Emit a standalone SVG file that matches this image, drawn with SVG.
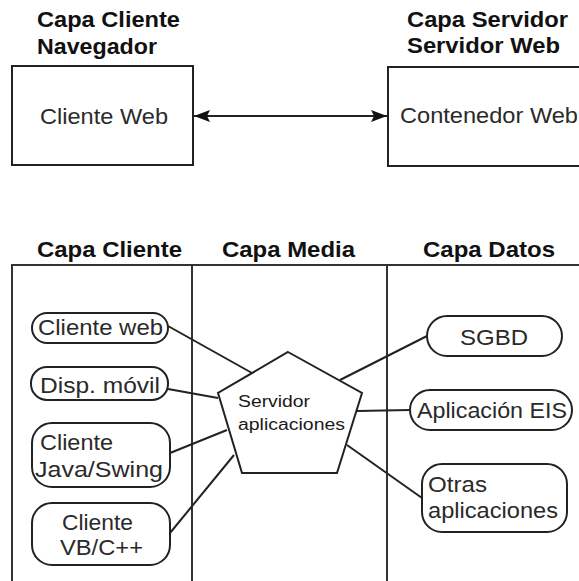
<svg xmlns="http://www.w3.org/2000/svg" width="579" height="581" viewBox="0 0 579 581">
  <style>
    .shape { fill: #ffffff; stroke: #222222; stroke-width: 2; }
    .line { fill: none; stroke: #222222; stroke-width: 2; }
    .frame { fill: none; stroke: #333333; stroke-width: 2; }
    .head { font-family: "Liberation Sans", Arial, sans-serif; font-weight: bold; font-size: 22px; fill: #111111; }
    .lbl { font-family: "Liberation Sans", Arial, sans-serif; font-size: 22px; fill: #2a2a2a; }
    .srv { font-family: "Liberation Sans", Arial, sans-serif; font-size: 16px; fill: #1a1a1a; }
  </style>
  <defs>
    <marker id="arrow" viewBox="0 0 16 12" refX="16" refY="6" markerWidth="16" markerHeight="12" markerUnits="userSpaceOnUse" orient="auto-start-reverse">
      <path d="M0,0 L16,6 L0,12 L3,6 Z" fill="#111111"/>
    </marker>
  </defs>
  <rect width="579" height="581" fill="#ffffff"/>

  <!-- Upper part: browser client and web server -->
  <g id="top-client">
    <text class="head" x="37" y="27" textLength="143" lengthAdjust="spacingAndGlyphs">Capa Cliente</text>
    <text class="head" x="37" y="54" textLength="120" lengthAdjust="spacingAndGlyphs">Navegador</text>
    <rect class="shape" x="12" y="66" width="181" height="99"/>
    <text class="lbl" x="40" y="124" textLength="128" lengthAdjust="spacingAndGlyphs">Cliente Web</text>
  </g>
  <g id="top-server">
    <text class="head" x="407" y="27" textLength="161" lengthAdjust="spacingAndGlyphs">Capa Servidor</text>
    <text class="head" x="407" y="53" textLength="153" lengthAdjust="spacingAndGlyphs">Servidor Web</text>
    <rect class="shape" x="388" y="67" width="200" height="99"/>
    <text class="lbl" x="400" y="123" textLength="178" lengthAdjust="spacingAndGlyphs">Contenedor Web</text>
  </g>

  <!-- Lower part: three-tier table -->
  <g id="tiers">
    <text class="head" x="37" y="257" textLength="145" lengthAdjust="spacingAndGlyphs">Capa Cliente</text>
    <text class="head" x="222" y="257" textLength="133" lengthAdjust="spacingAndGlyphs">Capa Media</text>
    <text class="head" x="423" y="257" textLength="132" lengthAdjust="spacingAndGlyphs">Capa Datos</text>
    <path class="frame" d="M12,581 V265 H579 M192,265 V581 M387,265 V581"/>
  </g>

  <g id="connectors">
    <line class="line" x1="194" y1="116" x2="387" y2="116" marker-start="url(#arrow)" marker-end="url(#arrow)"/>
    <line class="line" x1="168" y1="326" x2="252" y2="373"/>
    <line class="line" x1="168" y1="389" x2="218" y2="398"/>
    <line class="line" x1="170" y1="453" x2="227" y2="430"/>
    <line class="line" x1="170" y1="533" x2="234" y2="455"/>
    <line class="line" x1="340" y1="380" x2="427" y2="336"/>
    <line class="line" x1="357" y1="411" x2="410" y2="410"/>
    <line class="line" x1="347" y1="445" x2="422" y2="498"/>
  </g>

  <g id="servidor-aplicaciones">
    <polygon class="shape" points="288,352 362,393 337,473 242,473 218,393"/>
    <text class="srv" x="238" y="407" textLength="72" lengthAdjust="spacingAndGlyphs">Servidor</text>
    <text class="srv" x="238" y="430" textLength="107" lengthAdjust="spacingAndGlyphs">aplicaciones</text>
  </g>

  <g id="cliente-web">
    <rect class="shape" x="32" y="313" width="136" height="30" rx="15"/>
    <text class="lbl" x="38" y="335" textLength="125" lengthAdjust="spacingAndGlyphs">Cliente web</text>
  </g>
  <g id="disp-movil">
    <rect class="shape" x="31" y="367" width="137" height="33" rx="16"/>
    <text class="lbl" x="40" y="393" textLength="120" lengthAdjust="spacingAndGlyphs">Disp. móvil</text>
  </g>
  <g id="cliente-java">
    <rect class="shape" x="32" y="423" width="138" height="64" rx="20"/>
    <text class="lbl" x="40" y="450" textLength="73" lengthAdjust="spacingAndGlyphs">Cliente</text>
    <text class="lbl" x="35" y="477" textLength="128" lengthAdjust="spacingAndGlyphs">Java/Swing</text>
  </g>
  <g id="cliente-vb">
    <rect class="shape" x="32" y="503" width="138" height="62" rx="20"/>
    <text class="lbl" x="62" y="530" textLength="71" lengthAdjust="spacingAndGlyphs">Cliente</text>
    <text class="lbl" x="60" y="555" textLength="83" lengthAdjust="spacingAndGlyphs">VB/C++</text>
  </g>

  <g id="sgbd">
    <rect class="shape" x="427" y="316" width="135" height="40" rx="20"/>
    <text class="lbl" x="460" y="345" textLength="68" lengthAdjust="spacingAndGlyphs">SGBD</text>
  </g>
  <g id="aplicacion-eis">
    <rect class="shape" x="410" y="390" width="162" height="40" rx="20"/>
    <text class="lbl" x="417" y="418" textLength="150" lengthAdjust="spacingAndGlyphs">Aplicación EIS</text>
  </g>
  <g id="otras-aplicaciones">
    <rect class="shape" x="422" y="464" width="145" height="68" rx="20"/>
    <text class="lbl" x="428" y="492" textLength="59" lengthAdjust="spacingAndGlyphs">Otras</text>
    <text class="lbl" x="428" y="518" textLength="130" lengthAdjust="spacingAndGlyphs">aplicaciones</text>
  </g>
</svg>
